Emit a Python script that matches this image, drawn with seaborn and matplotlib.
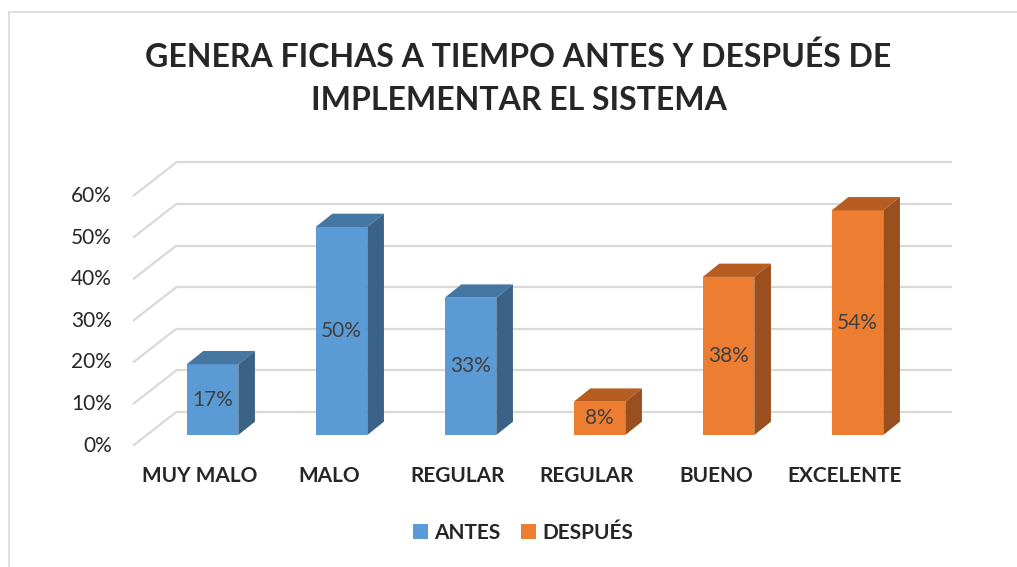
import pandas as pd
import seaborn as sns
import matplotlib.pyplot as plt
from matplotlib.patches import Polygon
from matplotlib.lines import Line2D

#chart data
categories = ['MUY MALO', 'MALO', 'REGULAR', 'REGULAR', 'BUENO', 'EXCELENTE']
groups = ['ANTES', 'ANTES', 'ANTES', 'DESPUÉS', 'DESPUÉS', 'DESPUÉS']
values = [17, 50, 33, 8, 38, 54]
yticks = [0, 10, 20, 30, 40, 50, 60]
title = 'GENERA FICHAS A TIEMPO ANTES Y DESPUÉS DE\nIMPLEMENTAR EL SISTEMA'

#excel-like colours: front, top and side faces
front_colors = {'ANTES': '#5B9BD5', 'DESPUÉS': '#ED7D31'}
top_colors = {'ANTES': '#4676A2', 'DESPUÉS': '#B65D22'}
side_colors = {'ANTES': '#3A6387', 'DESPUÉS': '#9A4F1E'}

df = pd.DataFrame({'pos': range(len(values)), 'grupo': groups, 'valor': values})

#fake 3d depth, in data units (x = category step, y = percent)
DX_BAR, DY_BAR = 0.129, 3.2
FX, FY = -0.108, -2.57      # front plane (ticks, labels)
BX, BY = 0.227, 5.53       # back wall
GRID_LEFT = -0.616
GRID_RIGHT = 5.73

sns.set_theme(style='white')
plt.rcParams['font.family'] = ['Lato', 'DejaVu Sans']

fig = plt.figure(figsize=(10.17, 5.67), dpi=100)
ax = fig.add_axes([0, 0, 1, 1])

sns.barplot(data=df, x='pos', y='valor', hue='grupo', palette=front_colors,
            dodge=False, width=0.4, linewidth=0, saturation=1, ax=ax, zorder=3)

#gridlines: diagonal on the floor side + horizontal on the back wall
for v in yticks:
    ax.plot([GRID_LEFT, GRID_LEFT + BX - FX], [v + FY, v + BY],
            color='#d9d9d9', lw=1.6, zorder=1, solid_capstyle='butt')
    ax.plot([GRID_LEFT + BX - FX, GRID_RIGHT], [v + BY, v + BY],
            color='#d9d9d9', lw=1.6, zorder=1, solid_capstyle='butt')
    ax.text(-0.779, v + FY, f'{v}%', ha='right', va='center',
            fontsize=15, color='#262626')

#top and side faces from the bars seaborn drew
bars = [p for p in ax.patches if p.get_height() == p.get_height() and p.get_height() > 0]
bars = sorted(bars, key=lambda p: p.get_x())
for p, g, val in zip(bars, groups, values):
    x0, w, h = p.get_x(), p.get_width(), p.get_height()
    x1 = x0 + w
    top = [(x0, h), (x1, h), (x1 + DX_BAR, h + DY_BAR), (x0 + DX_BAR, h + DY_BAR)]
    side = [(x1, 0), (x1 + DX_BAR, DY_BAR), (x1 + DX_BAR, h + DY_BAR), (x1, h)]
    ax.add_patch(Polygon(top, closed=True, facecolor=top_colors[g], lw=0, zorder=3))
    ax.add_patch(Polygon(side, closed=True, facecolor=side_colors[g], lw=0, zorder=3))
    ax.text(x0 + w / 2, val / 2, f'{val}%', ha='center', va='center',
            fontsize=15, color='#404040', zorder=4)

#category labels on the front plane
for i, c in enumerate(categories):
    ax.text(i + FX + 0.01, -9.86, c, ha='center', va='center',
            fontsize=15, fontweight='bold', color='#262626')

ax.set_xlim(-212.5 / 129, (1017 - 212.5) / 129)
ax.set_ylim((435 - 567) / 4.16, 435 / 4.16)
ax.set_axis_off()

#legend
handles, labels = ax.get_legend_handles_labels()
ax.legend(handles, labels, loc='center', bbox_to_anchor=(523 / 1017, 1 - 533 / 567),
          bbox_transform=fig.transFigure, ncol=2, frameon=False,
          handlelength=0.7, handleheight=0.7, handletextpad=0.3, columnspacing=1.0,
          prop={'weight': 'bold', 'size': 15, 'family': 'Lato'}, labelcolor='#262626')

#title
fig.text(518.5 / 1017, 1 - 78.5 / 567, title, ha='center', va='center',
         fontsize=23, fontweight='bold', color='#262626', linespacing=1.6)

#chart area border
fig.add_artist(Line2D([8.5 / 1017, 1], [1 - 11.5 / 567, 1 - 11.5 / 567], color='#d9d9d9', lw=1.2))
fig.add_artist(Line2D([8.5 / 1017, 8.5 / 1017], [0, 1 - 11.5 / 567], color='#d9d9d9', lw=1.2))

fig.savefig('out.png', dpi=100)
